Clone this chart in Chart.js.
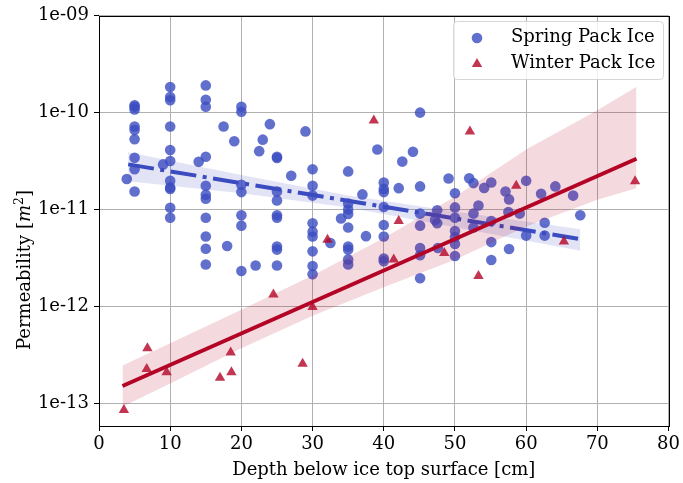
<!DOCTYPE html>
<html>
<head>
<meta charset="utf-8">
<script src="https://cdn.jsdelivr.net/npm/chart.js@4.4.1/dist/chart.umd.min.js"></script>
<style>
  html, body { margin: 0; padding: 0; background: #ffffff; }
  #wrap { width: 683px; height: 483px; }
</style>
</head>
<body>
<div id="wrap"><canvas id="chart" width="683" height="483"></canvas></div>
<script>
// Spring pack ice samples: depth [cm] and permeability [m^2]
const springDepth = [
  3.9, 5, 5, 5, 5, 5, 5, 5, 5, 5,
  9, 10, 10, 10, 10, 10, 10, 10, 10, 10, 10, 10,
  14, 15, 15, 15, 15, 15, 15, 15, 15, 15, 15, 15,
  17.5, 18, 19, 20, 20, 20, 20, 20, 20, 20,
  22, 22.5, 23, 24, 25, 25, 25, 25, 25, 25, 25, 25, 25,
  27, 29, 30, 30, 30, 30, 30, 30, 30, 30, 30,
  32.5, 34, 35, 35, 35, 35, 35, 35, 35, 35, 35,
  37, 37.5, 39.1, 40, 40, 40, 40, 40, 40, 40, 40,
  42.1, 42.6, 44.1, 45.1, 45.1, 45.1, 45.1, 45.1, 45.1, 45.1,
  47.2, 47.5, 47.5, 47.6, 49.1, 50, 50, 50, 50, 50, 50, 50,
  52, 52.6, 52.6, 52.6, 53.3, 54.1, 55.1, 55.1, 55.1, 55.1,
  57.1, 57.5, 57.6, 57.6, 59.1, 60, 60, 62.1, 62.6, 62.6, 64.1, 66.6, 67.6
];
const springPerm = [
  2.06e-11, 1.19e-10, 1.15e-10, 1.08e-10, 7.2e-11, 6.6e-11, 5.3e-11, 3.42e-11, 2.6e-11, 1.53e-11,
  2.92e-11, 1.84e-10, 1.45e-10, 1.34e-10, 7.2e-11, 4.1e-11, 3.17e-11, 1.98e-11, 1.69e-11, 1.63e-11, 1.04e-11, 8.2e-12,
  3.1e-11, 1.91e-10, 1.36e-10, 1.15e-10, 3.5e-11, 1.76e-11, 1.42e-11, 1.29e-11, 8.2e-12, 5.25e-12, 3.93e-12, 2.7e-12,
  7.2e-11, 4.2e-12, 5.06e-11, 1.15e-10, 1.02e-10, 1.8e-11, 1.51e-11, 8.7e-12, 6.8e-12, 2.31e-12,
  2.64e-12, 4.0e-11, 5.26e-11, 7.6e-11, 3.5e-11, 3.4e-11, 1.53e-11, 1.24e-11, 8.7e-12, 8.2e-12, 4.15e-12, 3.85e-12, 2.64e-12,
  2.23e-11, 6.4e-11, 2.6e-11, 1.76e-11, 1.39e-11, 7.2e-12, 5.9e-12, 5.25e-12, 3.69e-12, 2.6e-12, 2.14e-12,
  4.5e-12, 8.05e-12, 2.47e-11, 1.15e-11, 1.0e-11, 9.0e-12, 6.5e-12, 4.15e-12, 3.85e-12, 3.05e-12, 2.7e-12,
  1.43e-11, 5.3e-12, 4.16e-11, 1.9e-11, 1.63e-11, 1.51e-11, 1.06e-11, 6.9e-12, 5.25e-12, 3.11e-12, 2.92e-12,
  1.66e-11, 3.12e-11, 3.94e-11, 1.0e-10, 1.73e-11, 9.06e-12, 6.8e-12, 3.99e-12, 3.36e-12, 1.95e-12,
  7.76e-12, 9.8e-12, 7.2e-12, 4.0e-12, 2.09e-11, 1.47e-11, 1.05e-11, 8.2e-12, 6.0e-12, 5.2e-12, 4.4e-12, 3.3e-12,
  2.1e-11, 1.87e-11, 9.06e-12, 6.5e-12, 1.1e-11, 1.67e-11, 1.9e-11, 7.6e-12, 4.6e-12, 3.0e-12,
  1.53e-11, 9.4e-12, 1.27e-11, 3.9e-12, 9.06e-12, 1.98e-11, 5.37e-12, 1.45e-11, 7.3e-12, 5.37e-12, 1.73e-11, 1.39e-11, 8.7e-12
];

// Winter pack ice samples
const winterDepth = [3.5, 6.7, 6.8, 9.5, 17, 18.5, 18.6, 24.5, 28.6, 30,
                     32.1, 38.6, 41.4, 42.1, 48.5, 52.1, 53.3, 58.6, 65.3, 75.3];
const winterPerm = [8.5e-14, 2.25e-13, 3.69e-13, 2.08e-13, 1.83e-13, 3.33e-13, 2.08e-13, 1.32e-12, 2.55e-13, 9.8e-13,
                    4.86e-12, 8.3e-11, 3.04e-12, 7.6e-12, 3.55e-12, 6.4e-11, 2.06e-12, 1.76e-11, 4.67e-12, 1.95e-11];

// Log-linear fits (end points) and their confidence bands
const springFitDepth = [4.1, 67.6];
const springFitPerm = [2.92e-11, 4.93e-12];
const springBandDepth = [4.1, 20, 35, 50, 67.6];
const springBandUpper = [3.89e-11, 2.27e-11, 1.39e-11, 9.55e-12, 6.25e-12];
const springBandLower = [1.95e-11, 1.47e-11, 1.05e-11, 6.56e-12, 3.74e-12];

const winterFitDepth = [3.3, 75.5];
const winterFitPerm = [1.5e-13, 3.34e-11];
const winterBandDepth = [3.3, 10, 20, 30, 40, 50, 60, 70, 75.5];
const winterBandUpper = [2.45e-13, 4.15e-13, 9.18e-13, 2.08e-12, 5.07e-12, 1.35e-11, 4.16e-11, 1.06e-10, 1.85e-10];
const winterBandLower = [9.16e-14, 1.59e-13, 3.68e-13, 7.96e-13, 1.57e-12, 3.02e-12, 6.68e-12, 1.26e-11, 1.66e-11];

// Axis ticks
const xTickValues = [0, 10, 20, 30, 40, 50, 60, 70, 80];
const yTickValues = [1e-13, 1e-12, 1e-11, 1e-10, 1e-9];
const yTickLabels = ['1e-13', '1e-12', '1e-11', '1e-10', '1e-09'];

const seriesNames = ['Spring Pack Ice', 'Winter Pack Ice'];

const FONT = "'DejaVu Serif', serif";
const BLUE = '#3b4cc0';
const RED = '#b40426';
const BLUE_PT = 'rgba(59,76,192,0.8)';
const RED_PT = 'rgba(180,4,38,0.8)';
const BLUE_BAND = 'rgba(59,76,192,0.15)';
const RED_BAND = 'rgba(180,4,38,0.15)';

const pts = (xs, ys) => xs.map((x, i) => ({ x: x, y: ys[i] }));

// Frame, axis titles and legend box
const decorations = {
  id: 'decorations',
  afterDraw(chart) {
    const ctx = chart.ctx;
    const a = chart.chartArea;
    ctx.save();

    // axes frame
    ctx.strokeStyle = '#000000';
    ctx.lineWidth = 1;
    ctx.strokeRect(Math.round(a.left) + 0.5, Math.round(a.top) + 0.5,
                   Math.round(a.right) - Math.round(a.left), Math.round(a.bottom) - Math.round(a.top));

    // x axis title
    ctx.fillStyle = '#000000';
    ctx.font = `18px ${FONT}`;
    ctx.textAlign = 'center';
    ctx.textBaseline = 'alphabetic';
    ctx.fillText('Depth below ice top surface [cm]', (a.left + a.right) / 2, 475);

    // y axis title with italic m and superscript 2
    const parts = [
      { t: 'Permeability [', f: `18px ${FONT}`, dy: 0 },
      { t: 'm', f: `italic 18px ${FONT}`, dy: 0 },
      { t: '2', f: `12.5px ${FONT}`, dy: -7 },
      { t: ']', f: `18px ${FONT}`, dy: 0 }
    ];
    let total = 0;
    parts.forEach(p => { ctx.font = p.f; p.w = ctx.measureText(p.t).width; total += p.w; });
    ctx.translate(30, 270);
    ctx.rotate(-Math.PI / 2);
    ctx.textAlign = 'left';
    let cx = -total / 2;
    parts.forEach(p => { ctx.font = p.f; ctx.fillText(p.t, cx, p.dy); cx += p.w; });
    ctx.setTransform(1, 0, 0, 1, 0, 0);

    // legend
    const lx = 453, ly = 21, lw = 210, lh = 58;
    ctx.beginPath();
    ctx.roundRect(lx + 0.5, ly + 0.5, lw, lh, 4);
    ctx.fillStyle = 'rgba(255,255,255,0.8)';
    ctx.fill();
    ctx.strokeStyle = 'rgba(204,204,204,0.8)';
    ctx.lineWidth = 1;
    ctx.stroke();

    ctx.fillStyle = BLUE_PT;
    ctx.beginPath();
    ctx.arc(477, 38, 5.3, 0, Math.PI * 2);
    ctx.fill();

    ctx.fillStyle = RED_PT;
    ctx.beginPath();
    ctx.moveTo(477, 58);
    ctx.lineTo(482.2, 67);
    ctx.lineTo(471.8, 67);
    ctx.closePath();
    ctx.fill();

    ctx.fillStyle = '#000000';
    ctx.font = `18px ${FONT}`;
    ctx.textAlign = 'left';
    ctx.textBaseline = 'alphabetic';
    ctx.fillText(seriesNames[0], 511, 42);
    ctx.fillText(seriesNames[1], 511, 68);
    ctx.restore();
  }
};

new Chart(document.getElementById('chart'), {
  type: 'line',
  data: {
    datasets: [
      {
        label: seriesNames[0], data: pts(springDepth, springPerm), showLine: false,
        pointStyle: 'circle', pointRadius: 5.3, pointBorderWidth: 0,
        pointBackgroundColor: BLUE_PT, backgroundColor: BLUE_PT, borderColor: 'transparent', order: 6
      },
      {
        label: 'spring band', data: pts(springBandDepth, springBandUpper), showLine: true,
        pointRadius: 0, borderWidth: 0, borderColor: 'transparent',
        backgroundColor: BLUE_BAND, fill: '+1', order: 5
      },
      {
        label: 'spring band low', data: pts(springBandDepth, springBandLower), showLine: true,
        pointRadius: 0, borderWidth: 0, borderColor: 'transparent', fill: false, order: 5
      },
      {
        label: 'spring fit', data: pts(springFitDepth, springFitPerm), showLine: true,
        pointRadius: 0, borderWidth: 4, borderColor: BLUE, borderCapStyle: 'butt',
        borderDash: [26, 6.5, 4, 6.5], fill: false, order: 4
      },
      {
        label: seriesNames[1], data: pts(winterDepth, winterPerm), showLine: false,
        pointStyle: 'triangle', pointRadius: 6, pointBorderWidth: 0,
        pointBackgroundColor: RED_PT, backgroundColor: RED_PT, borderColor: 'transparent', order: 3
      },
      {
        label: 'winter band', data: pts(winterBandDepth, winterBandUpper), showLine: true,
        pointRadius: 0, borderWidth: 0, borderColor: 'transparent',
        backgroundColor: RED_BAND, fill: '+1', order: 2
      },
      {
        label: 'winter band low', data: pts(winterBandDepth, winterBandLower), showLine: true,
        pointRadius: 0, borderWidth: 0, borderColor: 'transparent', fill: false, order: 2
      },
      {
        label: 'winter fit', data: pts(winterFitDepth, winterFitPerm), showLine: true,
        pointRadius: 0, borderWidth: 4, borderColor: RED, borderCapStyle: 'butt', fill: false, order: 1
      }
    ]
  },
  options: {
    responsive: false,
    animation: false,
    devicePixelRatio: 1,
    events: [],
    layout: { padding: { top: 11, right: 12, left: 0, bottom: 0 } },
    plugins: { legend: { display: false }, tooltip: { enabled: false } },
    scales: {
      x: {
        type: 'linear', min: 0, max: 80,
        afterBuildTicks: s => { s.ticks = xTickValues.map(v => ({ value: v })); },
        afterFit: s => { s.height = 57; },
        grid: { color: '#b0b0b0', lineWidth: 1, tickColor: '#000000', tickLength: 5, drawTicks: true },
        border: { display: false },
        ticks: { color: '#000000', font: { family: 'DejaVu Serif', size: 18 }, padding: 3, maxRotation: 0 }
      },
      y: {
        type: 'logarithmic', min: 5.8e-14, max: 1e-9,
        afterBuildTicks: s => { s.ticks = yTickValues.map(v => ({ value: v })); },
        afterFit: s => { s.width = 99; },
        grid: { color: '#b0b0b0', lineWidth: 1, tickColor: '#000000', tickLength: 5, drawTicks: true },
        border: { display: false },
        ticks: {
          color: '#000000', font: { family: 'DejaVu Serif', size: 18 }, padding: 5,
          callback: v => { const i = yTickValues.indexOf(v); return i >= 0 ? yTickLabels[i] : ''; }
        }
      }
    }
  },
  plugins: [decorations]
});
</script>
</body>
</html>
